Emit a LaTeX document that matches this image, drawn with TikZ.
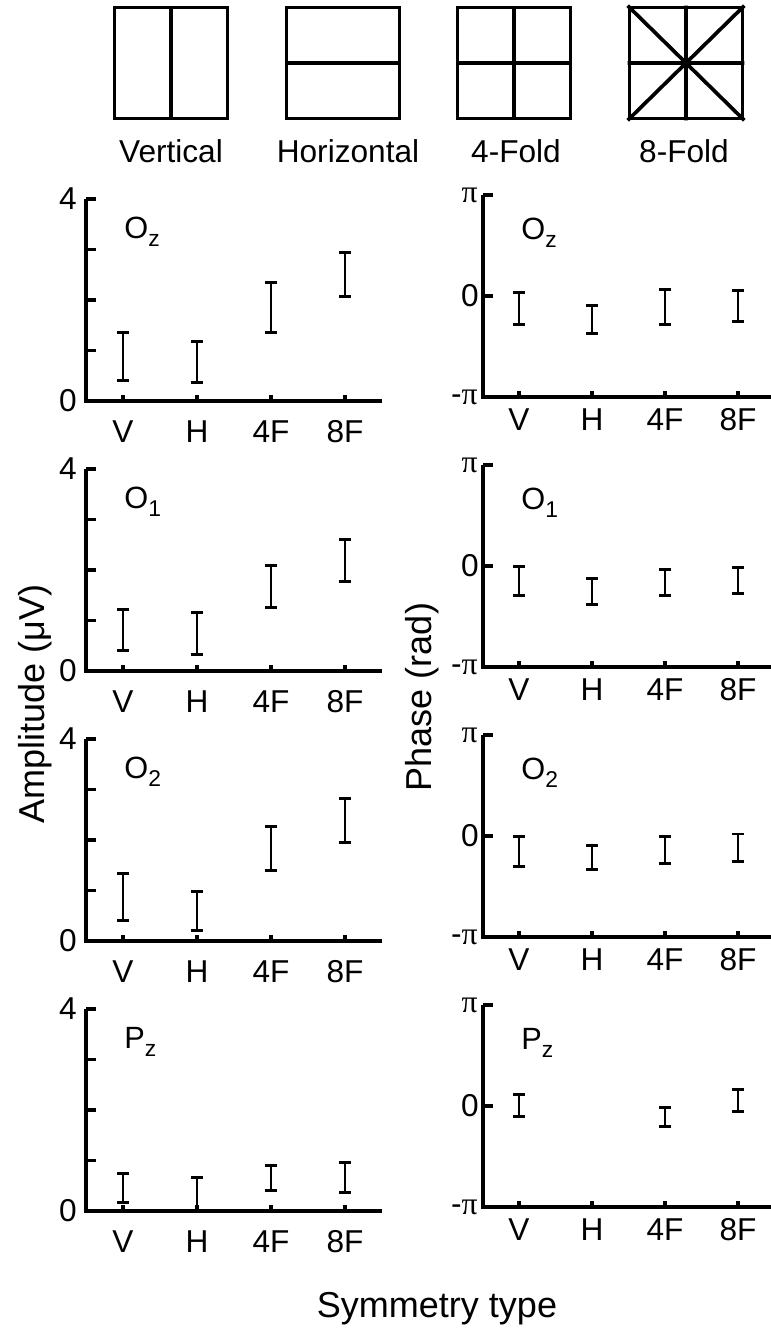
\documentclass[tikz,border=0pt]{standalone}
\usepackage{fontspec}
\setmainfont{Liberation Sans}
\newfontfamily\pifont{Liberation Serif}
\newcommand\chsub[1]{\raisebox{-4.5pt}{\fontsize{13}{13}\selectfont #1}}
\tikzset{
  symbox/.style={draw,line width=2.1pt,minimum width=2.26cm,minimum height=2.22cm,inner sep=0pt},
  symline/.style={line width=2.1pt},
  symlab/.style={font=\fontsize{18}{18}\selectfont,anchor=base},
  axline/.style={line width=1.8pt},
  bar/.style={line width=1.7pt},
  ticklab/.style={font=\fontsize{18}{18}\selectfont,inner sep=0pt},
  chlab/.style={font=\fontsize{17.5}{17.5}\selectfont,inner sep=0pt,anchor=west},
  title/.style={font=\fontsize{20.5}{20.5}\selectfont,inner sep=0pt,anchor=base}
}
\begin{document}
\begin{tikzpicture}[x=0.02cm,y=-0.02cm]
\useasboundingbox (0,0) rectangle (771,1330);
% symmetry patterns
\node[symbox] (bV) at (171,63) {};
\node[symbox] (bH) at (343,63) {};
\node[symbox] (b4) at (514,63) {};
\node[symbox] (b8) at (686,63) {};
\draw[symline] (bV.north) -- (bV.south);
\draw[symline] (bH.west) -- (bH.east);
\draw[symline] (b4.north) -- (b4.south) (b4.west) -- (b4.east);
\draw[symline] (b8.north) -- (b8.south) (b8.west) -- (b8.east)
  (b8.north west) -- (b8.south east) (b8.north east) -- (b8.south west);
\node[symlab] (tV) at (171,162) {Vertical};
\node[symlab] (tH) at (348,162) {Horizontal};
\node[symlab] (t4) at (516,162) {4-Fold};
\node[symlab] (t8) at (684,162) {8-Fold};
% panels: row / amplitude bars / phase bars (in pi) / channel
\foreach \r/\amp/\ph/\ch in {
  0/{1/1.35/0.40,2/1.17/0.36,3/2.35/1.35,4/2.95/2.06}/{1/0.03/-0.28,2/-0.09/-0.37,3/0.06/-0.28,4/0.05/-0.25}/{O\chsub{z}},
  1/{1/1.21/0.41,2/1.16/0.33,3/2.08/1.25,4/2.60/1.78}/{1/0.00/-0.29,2/-0.12/-0.38,3/-0.03/-0.29,4/-0.01/-0.27}/{O\chsub{1}},
  2/{1/1.33/0.41,2/0.99/0.21,3/2.27/1.39,4/2.83/1.95}/{1/0.00/-0.30,2/-0.09/-0.33,3/0.00/-0.27,4/0.02/-0.25}/{O\chsub{2}},
  3/{1/0.75/0.16,2/0.67/0.00,3/0.91/0.41,4/0.96/0.37}/{1/0.11/-0.10,3/-0.01/-0.20,4/0.16/-0.05}/{P\chsub{z}}}{
  \pgfmathsetmacro\az{401+270*\r}
  \pgfmathsetmacro\at{\az-202}
  \pgfmathsetmacro\pz{296+270*\r}
  % amplitude
  \draw[axline] (86,\at) -- (86,\az) -- (382,\az);
  \foreach \t in {1,...,4} \draw[axline] (86,\az-50.5*\t) -- (96,\az-50.5*\t);
  \node[ticklab,anchor=east] (a0\r) at (77,\az) {0};
  \node[ticklab,anchor=east] (a4\r) at (77,\at) {4};
  \node[chlab] (ac\r) at (124,\at+33) {\ch};
  \foreach \xx/\lab [count=\k] in {123/V,197/H,271/4F,345/8F}{
    \draw[axline] (\xx,\az) -- (\xx,\az-6);
    \node[ticklab,anchor=base] (ax\r\k) at (\xx,\az+41) {\lab};
  }
  \foreach \k/\hi/\lo in \amp{
    \pgfmathsetmacro\xx{49+74*\k}
    \draw[bar] (\xx-6,\az-50.5*\hi) -- (\xx+6,\az-50.5*\hi)
      (\xx,\az-50.5*\hi) -- (\xx,\az-50.5*\lo)
      (\xx-6,\az-50.5*\lo) -- (\xx+6,\az-50.5*\lo);
  }
  % phase
  \draw[axline] (483,\pz-101) -- (483,\pz+101) -- (771,\pz+101);
  \draw[axline] (483,\pz-101) -- (493,\pz-101) (483,\pz) -- (493,\pz);
  \node[ticklab,anchor=east] (pp\r) at (478,\pz-101) {\pifont π};
  \node[ticklab,anchor=east] (p0\r) at (479,\pz) {0};
  \node[ticklab,anchor=east] (pm\r) at (478,\pz+101) {-\pifont π};
  \node[chlab] (pc\r) at (521,\pz-63) {\ch};
  \foreach \xx/\lab [count=\k] in {519/V,592/H,665/4F,738/8F}{
    \draw[axline] (\xx,\pz+101) -- (\xx,\pz+95);
    \node[ticklab,anchor=base] (px\r\k) at (\xx,\pz+134) {\lab};
  }
  \foreach \k/\hi/\lo in \ph{
    \pgfmathsetmacro\xx{446+73*\k}
    \draw[bar] (\xx-6,\pz-101*\hi) -- (\xx+6,\pz-101*\hi)
      (\xx,\pz-101*\hi) -- (\xx,\pz-101*\lo)
      (\xx-6,\pz-101*\lo) -- (\xx+6,\pz-101*\lo);
  }
}
% axis titles
\node[title,rotate=90] (ytA) at (45,704) {Amplitude (μV)};
\node[title,rotate=90] (ytP) at (431,697) {Phase (rad)};
\node[title] (xt) at (437,1317) {Symmetry type};
\end{tikzpicture}
\end{document}
